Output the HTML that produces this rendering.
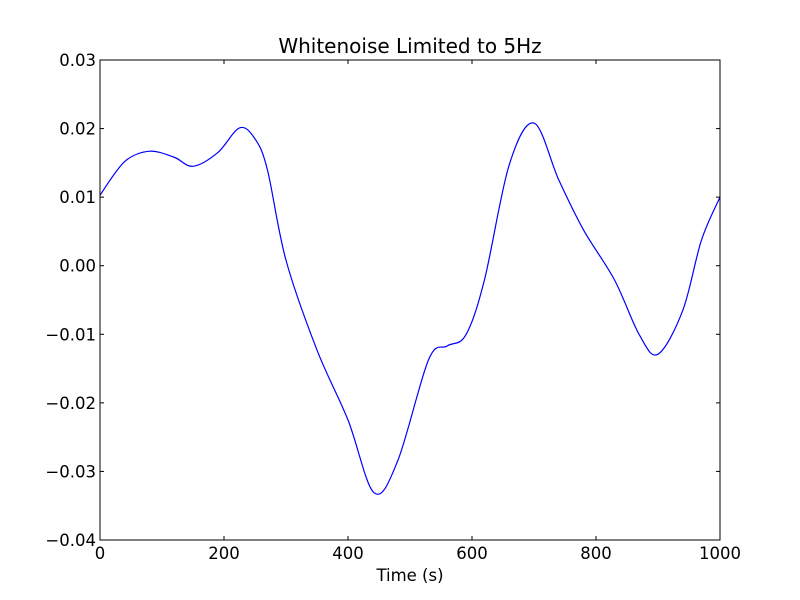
<!DOCTYPE html>
<html><head><meta charset="utf-8"><style>
body{margin:0;background:#fff;}
svg{display:block;font-family:"DejaVu Sans","Liberation Sans",sans-serif;}
</style></head><body>
<svg id="chart" width="800" height="600">
<rect width="800" height="600" fill="#fff"/>
</svg>
<script>
const tValues=[0,40,80,120,150,190,225,250,270,300,350,400,442,480,530,560,590,620,660,700,740,780,830,870,900,940,970,1000];
const yValues=[0.0103,0.0152,0.0167,0.0158,0.0145,0.0165,0.0201,0.0185,0.0140,0.0008,-0.0123,-0.0225,-0.0331,-0.0285,-0.0137,-0.0117,-0.0101,-0.0021,0.0147,0.0208,0.0125,0.0052,-0.0021,-0.0101,-0.0129,-0.0065,0.0037,0.0100];
const xTicks=[0,200,400,600,800,1000];
const yTicks=[-0.04,-0.03,-0.02,-0.01,0.00,0.01,0.02,0.03];
const yTickLabels=["\u22120.04","\u22120.03","\u22120.02","\u22120.01","0.00","0.01","0.02","0.03"];
const L=100,R=720,T=60,B=540;
const sx=v=>L+(v-0)/(1000-0)*(R-L);
const sy=v=>B-(v+0.04)/(0.07)*(B-T);
const svg=document.getElementById('chart');
const NS='http://www.w3.org/2000/svg';
function mk(tag,attrs,parent){const e=document.createElementNS(NS,tag);for(const k in attrs)e.setAttribute(k,attrs[k]);(parent||svg).appendChild(e);return e;}
const pts=tValues.map((t,i)=>[sx(t),sy(yValues[i])]);
let d='M'+pts[0][0]+','+pts[0][1];
for(let i=0;i<pts.length-1;i++){
 const p0=pts[Math.max(0,i-1)],p1=pts[i],p2=pts[i+1],p3=pts[Math.min(pts.length-1,i+2)];
 const c1=[p1[0]+(p2[0]-p0[0])/6,p1[1]+(p2[1]-p0[1])/6];
 const c2=[p2[0]-(p3[0]-p1[0])/6,p2[1]-(p3[1]-p1[1])/6];
 d+=' C'+c1[0]+','+c1[1]+' '+c2[0]+','+c2[1]+' '+p2[0]+','+p2[1];
}
const line=mk('path',{d:d,fill:'none',stroke:'#0000ff','stroke-width':1.2});


const frame=mk('rect',{x:L,y:T,width:R-L,height:B-T,fill:'none',stroke:'#000','stroke-width':1});


xTicks.forEach(v=>{
 const x=sx(v);
 mk('line',{x1:x,y1:B,x2:x,y2:B-4,stroke:'#000'});
 mk('line',{x1:x,y1:T,x2:x,y2:T+4,stroke:'#000'});
 const t=mk('text',{x:x,y:B+19,'text-anchor':'middle','font-size':16.5});
 t.textContent=v;
 
 
});
yTicks.forEach((v,i)=>{
 const y=sy(v);
 mk('line',{x1:L,y1:y,x2:L+4,y2:y,stroke:'#000'});
 mk('line',{x1:R,y1:y,x2:R-4,y2:y,stroke:'#000'});
 const t=mk('text',{x:L-4,y:y+6,'text-anchor':'end','font-size':16.5});
 t.textContent=yTickLabels[i];
 
 
});
const title=mk('text',{x:410,y:53,'text-anchor':'middle','font-size':20});
title.textContent='Whitenoise Limited to 5Hz';


const xl=mk('text',{x:410,y:581,'text-anchor':'middle','font-size':16.5});
xl.textContent='Time (s)';


</script>
</body></html>
